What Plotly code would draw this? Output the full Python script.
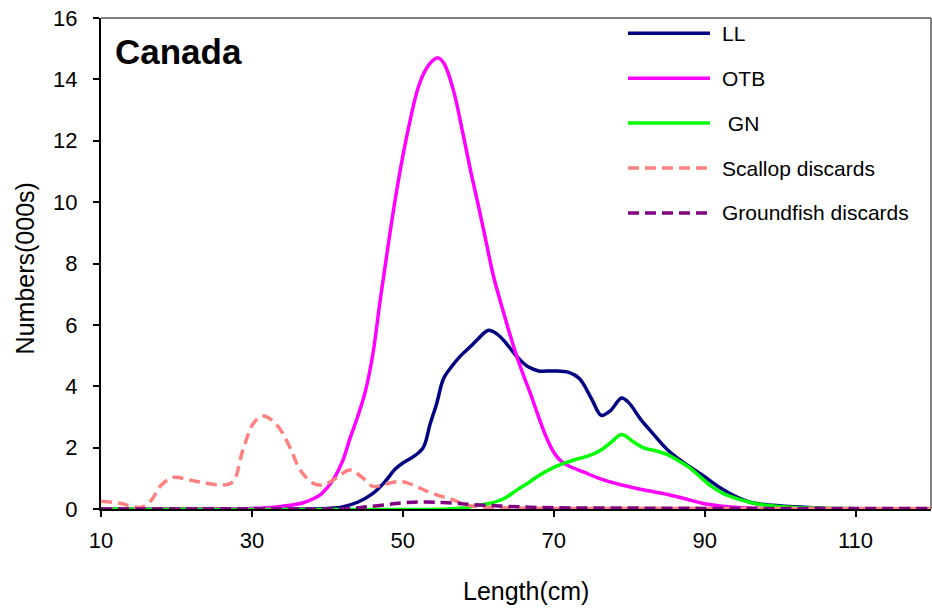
import plotly.graph_objects as go

# Length frequencies (numbers, thousands) by gear type - Canada
ll_len = [10, 30, 38, 40, 42, 44, 46, 47.5, 49, 50, 51.5, 52.7, 53.6, 54.5, 55.4, 56.5, 57.5, 59, 60, 61.3, 62.5,
          63.7, 65, 66.5, 68, 70, 72, 73.4, 75, 76.3, 77.5, 79, 80, 81.5, 83, 85, 87, 90, 92, 94, 96, 99, 102,
          106, 110, 120]
ll_val = [0, 0, 0, 0.02, 0.07, 0.22, 0.5, 0.85, 1.3, 1.5, 1.72, 2.0, 2.75, 3.45, 4.25, 4.65, 4.95, 5.3, 5.55,
          5.82, 5.7, 5.4, 5.0, 4.65, 4.5, 4.5, 4.45, 4.25, 3.6, 3.05, 3.2, 3.62, 3.45, 2.93, 2.5, 1.95, 1.55,
          1.05, 0.7, 0.42, 0.22, 0.12, 0.07, 0.02, 0, 0]

otb_len = [10, 25, 30, 33, 35, 37, 39, 40, 41, 42, 43, 44, 45, 46, 47, 48, 49, 50, 51, 52, 53, 54, 54.7, 55.5,
           56.7, 58, 59, 60, 61, 62, 63, 64, 65, 66, 67, 68, 69, 70, 71, 72, 74, 76, 79, 82, 85, 87, 90, 92, 95,
           100, 110, 120]
otb_val = [0, 0, 0.02, 0.06, 0.12, 0.22, 0.45, 0.7, 1.05, 1.55, 2.3, 3.0, 3.8, 5.0, 6.8, 8.5, 10.1, 11.5, 12.7,
           13.7, 14.3, 14.62, 14.7, 14.5, 13.65, 12.2, 11.0, 9.9, 8.75, 7.6, 6.7, 5.85, 5.05, 4.35, 3.7, 3.0,
           2.35, 1.85, 1.55, 1.4, 1.2, 1.0, 0.78, 0.62, 0.48, 0.36, 0.17, 0.1, 0.04, 0.01, 0, 0]

gn_len = [10, 56, 58, 60, 61.5, 63.5, 65, 66.6, 68, 69.8, 71.5, 73, 74.5, 76, 77.5, 79, 80.5, 82, 83.5, 85,
          86.5, 88, 89.5, 91, 92.5, 94.5, 97, 99, 103, 110, 120]
gn_val = [0, 0, 0.03, 0.12, 0.18, 0.35, 0.6, 0.85, 1.08, 1.33, 1.5, 1.62, 1.72, 1.88, 2.15, 2.43, 2.2, 1.98,
          1.9, 1.78, 1.58, 1.35, 1.03, 0.72, 0.5, 0.32, 0.16, 0.1, 0.04, 0.01, 0]

scallop_len = [10, 12.5, 15.2, 16.5, 18, 19.6, 21.8, 24, 26.2, 27.5, 28.8, 30.2, 31.5, 33.3, 35, 36.4, 38.1,
               39.4, 41, 43, 44.5, 46.1, 47.5, 49.2, 50.5, 51.8, 53, 55, 56.7, 58, 60, 62, 65, 70, 80, 90,
               100, 110, 120]
scallop_val = [0.25, 0.19, 0.05, 0.24, 0.78, 1.03, 0.94, 0.84, 0.78, 0.89, 1.92, 2.79, 3.03, 2.74, 2.03, 1.27,
               0.84, 0.78, 0.98, 1.27, 1.05, 0.73, 0.8, 0.89, 0.86, 0.73, 0.6, 0.42, 0.3, 0.16, 0.07, 0.05,
               0.03, 0.02, 0.02, 0.02, 0.02, 0.02, 0.02]

groundfish_len = [10, 40, 43, 45.2, 47.8, 49.5, 51.4, 53, 54.5, 55.3, 57.5, 58.9, 61.1, 62.7, 65.5, 70, 80, 90,
                  100, 110, 120]
groundfish_val = [0, 0, 0.01, 0.07, 0.14, 0.19, 0.22, 0.23, 0.22, 0.21, 0.18, 0.15, 0.12, 0.1, 0.07, 0.04, 0.03,
                  0.02, 0.02, 0.02, 0.02]

series_names = ["LL", "OTB", " GN", "Scallop discards", "Groundfish discards"]
series_x = [ll_len, otb_len, gn_len, scallop_len, groundfish_len]
series_y = [ll_val, otb_val, gn_val, scallop_val, groundfish_val]
series_colors = ["#000080", "#FF00FF", "#00FF00", "#FF8080", "#800080"]
series_dash = ["solid", "solid", "solid", "11px,6px", "11px,6px"]

x_ticks = [10, 30, 50, 70, 90, 110]
y_ticks = [0, 2, 4, 6, 8, 10, 12, 14, 16]

FONT = "Liberation Sans, Arial, sans-serif"

fig = go.Figure()
for name, xs, ys, col, dash in zip(series_names, series_x, series_y, series_colors, series_dash):
    fig.add_trace(go.Scatter(
        x=xs, y=ys, name=name, mode="lines",
        line=dict(color=col, width=3.5, dash=dash, shape="spline", smoothing=1.0),
        showlegend=False,
    ))

# Legend drawn as line samples + labels at the upper right of the plot
legend_top = 0.969
legend_step = 0.0915
for i, (name, col, dash) in enumerate(zip(series_names, series_colors, series_dash)):
    yy = legend_top - i * legend_step
    fig.add_shape(type="line", xref="paper", yref="paper",
                  x0=0.6349, x1=0.7337, y0=yy, y1=yy,
                  line=dict(color=col, width=3.5, dash=dash))
    fig.add_annotation(xref="paper", yref="paper", x=0.7458, y=yy, text=name,
                       showarrow=False, xanchor="left", yanchor="middle",
                       font=dict(family=FONT, size=21, color="black"))

fig.add_annotation(xref="paper", yref="paper", x=0.015, y=0.931, text="<b>Canada</b>",
                   showarrow=False, xanchor="left", yanchor="middle",
                   font=dict(family=FONT, size=35, color="black"))

# Axis titles
fig.add_annotation(xref="paper", yref="paper", x=0.512, y=-0.168, text="Length(cm)",
                   showarrow=False, xanchor="center", yanchor="middle",
                   font=dict(family=FONT, size=25, color="black"))
fig.add_annotation(xref="paper", yref="paper", x=-0.0916, y=0.49, text="Numbers(000s)",
                   showarrow=False, xanchor="center", yanchor="middle", textangle=-90,
                   font=dict(family=FONT, size=25, color="black"))

# Grey frame on top and right
fig.add_shape(type="line", xref="paper", yref="paper", x0=0, x1=1, y0=1, y1=1,
              line=dict(color="#808080", width=2))
fig.add_shape(type="line", xref="paper", yref="paper", x0=1, x1=1, y0=0, y1=1,
              line=dict(color="#808080", width=2))

fig.update_layout(
    width=932, height=613,
    margin=dict(l=101, r=1, t=18, b=104),
    paper_bgcolor="white", plot_bgcolor="white",
    font=dict(family=FONT, size=18, color="black"),
    showlegend=False,
)
fig.update_xaxes(
    range=[10, 120], tickvals=x_ticks, ticks="outside", ticklen=6, tickwidth=2, tickcolor="black",
    showline=True, linecolor="black", linewidth=2, showgrid=False, zeroline=False,
    tickfont=dict(family=FONT, size=22), ticklabelstandoff=5,
)
fig.update_yaxes(
    range=[0, 16], tickvals=y_ticks, ticks="outside", ticklen=6, tickwidth=2, tickcolor="black",
    showline=True, linecolor="black", linewidth=2, showgrid=False, zeroline=False,
    tickfont=dict(family=FONT, size=22), ticklabelstandoff=11,
)

fig.write_html("out.html")
